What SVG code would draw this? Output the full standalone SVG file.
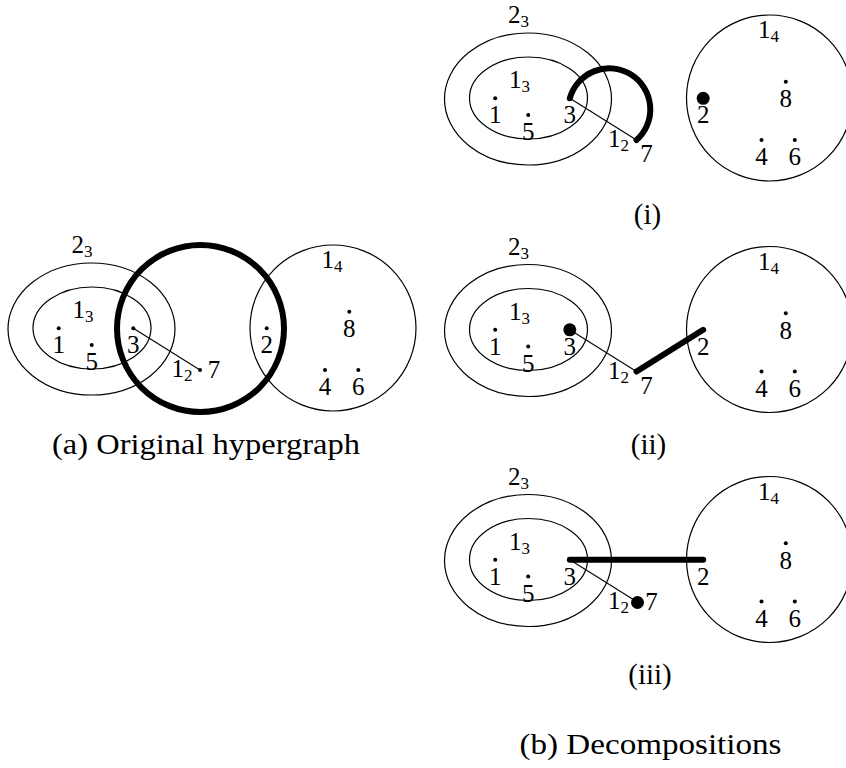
<svg xmlns="http://www.w3.org/2000/svg" width="846" height="768" viewBox="0 0 846 768" font-family="'Liberation Serif','Times New Roman',serif">
<style>
.bg{fill:#fff}
.thin{fill:none;stroke:#000;stroke-width:1.2}
.line{fill:none;stroke:#000;stroke-width:1.1}
.thick{fill:none;stroke:#000;stroke-width:6;stroke-linecap:round}
.dot{fill:#000}
text{font-family:"Liberation Serif","Times New Roman",serif;fill:#000}
.lbl{font-size:25px;text-anchor:middle}
.sl{font-size:25px}
.sub{font-size:17px}
.cap{font-size:29px;text-anchor:middle}
</style>
<rect class="bg" x="0" y="0" width="846" height="768"/>

<!-- Panel (a) -->
<g id="panel-a">
  <g id="a-connectors">
    <line class="line" x1="133.3" y1="328.3" x2="200" y2="370"/>
    <circle class="thick" cx="200.5" cy="328.5" r="83.5"/>
  </g>
  <g id="a-e23"><ellipse class="thin" cx="91.5" cy="329" rx="83.5" ry="66"/><text class="sl" x="71.5" y="253">2<tspan class="sub" dy="4">3</tspan></text></g>
  <g id="a-e13"><ellipse class="thin" cx="92" cy="328" rx="59" ry="41"/><text class="sl" x="72.5" y="318">1<tspan class="sub" dy="4">3</tspan></text></g>
  <g id="a-e14"><circle class="thin" cx="333" cy="328" r="83"/><text class="sl" x="321.5" y="268">1<tspan class="sub" dy="4">4</tspan></text></g>
  <g id="a-e12"><text class="sl" x="171.5" y="377">1<tspan class="sub" dy="4">2</tspan></text></g>
  <g id="a-v1"><circle class="dot" cx="58.7" cy="328.3" r="2"/><text class="lbl" x="58.7" y="353">1</text></g>
  <g id="a-v5"><circle class="dot" cx="91.7" cy="345" r="2"/><text class="lbl" x="91.7" y="370">5</text></g>
  <g id="a-v3"><circle class="dot" cx="133.3" cy="328.3" r="2"/><text class="lbl" x="133.3" y="353">3</text></g>
  <g id="a-v7"><circle class="dot" cx="200" cy="370" r="2"/><text class="lbl" x="214" y="378">7</text></g>
  <g id="a-v2"><circle class="dot" cx="266.7" cy="328.3" r="2"/><text class="lbl" x="266.7" y="353">2</text></g>
  <g id="a-v8"><circle class="dot" cx="349.3" cy="311.7" r="2"/><text class="lbl" x="349.3" y="337">8</text></g>
  <g id="a-v4"><circle class="dot" cx="325" cy="370" r="2"/><text class="lbl" x="325" y="395">4</text></g>
  <g id="a-v6"><circle class="dot" cx="358.3" cy="370" r="2"/><text class="lbl" x="358.3" y="395">6</text></g>
  <text id="cap-a" class="cap" x="206" y="454" textLength="308" lengthAdjust="spacingAndGlyphs">(a) Original hypergraph</text>
</g>

<!-- Panel (i) -->
<g id="panel-i" transform="translate(436.5,-230)">
  <g id="i-connectors">
    <line class="line" x1="133.3" y1="328.3" x2="200" y2="370"/>
    <path class="thick" d="M133.3,328.3 A41,41 0 1 1 200,370"/>
  </g>
  <g id="i-e23"><ellipse class="thin" cx="91.5" cy="329" rx="83.5" ry="66"/><text class="sl" x="71.5" y="253">2<tspan class="sub" dy="4">3</tspan></text></g>
  <g id="i-e13"><ellipse class="thin" cx="92" cy="328" rx="59" ry="41"/><text class="sl" x="72.5" y="318">1<tspan class="sub" dy="4">3</tspan></text></g>
  <g id="i-e14"><circle class="thin" cx="333" cy="328" r="83"/><text class="sl" x="321.5" y="268">1<tspan class="sub" dy="4">4</tspan></text></g>
  <g id="i-e12"><text class="sl" x="171.5" y="377">1<tspan class="sub" dy="4">2</tspan></text></g>
  <g id="i-v1"><circle class="dot" cx="58.7" cy="328.3" r="2"/><text class="lbl" x="58.7" y="353">1</text></g>
  <g id="i-v5"><circle class="dot" cx="91.7" cy="345" r="2"/><text class="lbl" x="91.7" y="370">5</text></g>
  <g id="i-v3"><circle class="dot" cx="133.3" cy="328.3" r="2"/><text class="lbl" x="133.3" y="353">3</text></g>
  <g id="i-v7"><circle class="dot" cx="200" cy="370" r="2"/><text class="lbl" x="210" y="392">7</text></g>
  <g id="i-v2"><circle class="dot" cx="266.7" cy="328.3" r="6.5"/><text class="lbl" x="266.7" y="353">2</text></g>
  <g id="i-v8"><circle class="dot" cx="349.3" cy="311.7" r="2"/><text class="lbl" x="349.3" y="337">8</text></g>
  <g id="i-v4"><circle class="dot" cx="325" cy="370" r="2"/><text class="lbl" x="325" y="395">4</text></g>
  <g id="i-v6"><circle class="dot" cx="358.3" cy="370" r="2"/><text class="lbl" x="358.3" y="395">6</text></g>
  <text id="cap-i" class="cap" x="211" y="454">(i)</text>
</g>

<!-- Panel (ii) -->
<g id="panel-ii" transform="translate(436.5,1.5)">
  <g id="ii-connectors">
    <line class="line" x1="133.3" y1="328.3" x2="200" y2="370"/>
    <line class="thick" x1="200" y1="370" x2="266.7" y2="328.3"/>
  </g>
  <g id="ii-e23"><ellipse class="thin" cx="91.5" cy="329" rx="83.5" ry="66"/><text class="sl" x="71.5" y="253">2<tspan class="sub" dy="4">3</tspan></text></g>
  <g id="ii-e13"><ellipse class="thin" cx="92" cy="328" rx="59" ry="41"/><text class="sl" x="72.5" y="318">1<tspan class="sub" dy="4">3</tspan></text></g>
  <g id="ii-e14"><circle class="thin" cx="333" cy="328" r="83"/><text class="sl" x="321.5" y="268">1<tspan class="sub" dy="4">4</tspan></text></g>
  <g id="ii-e12"><text class="sl" x="171.5" y="377">1<tspan class="sub" dy="4">2</tspan></text></g>
  <g id="ii-v1"><circle class="dot" cx="58.7" cy="328.3" r="2"/><text class="lbl" x="58.7" y="353">1</text></g>
  <g id="ii-v5"><circle class="dot" cx="91.7" cy="345" r="2"/><text class="lbl" x="91.7" y="370">5</text></g>
  <g id="ii-v3"><circle class="dot" cx="133.3" cy="328.3" r="6.5"/><text class="lbl" x="133.3" y="353">3</text></g>
  <g id="ii-v7"><circle class="dot" cx="200" cy="370" r="2"/><text class="lbl" x="210" y="392">7</text></g>
  <g id="ii-v2"><circle class="dot" cx="266.7" cy="328.3" r="2"/><text class="lbl" x="266.7" y="353">2</text></g>
  <g id="ii-v8"><circle class="dot" cx="349.3" cy="311.7" r="2"/><text class="lbl" x="349.3" y="337">8</text></g>
  <g id="ii-v4"><circle class="dot" cx="325" cy="370" r="2"/><text class="lbl" x="325" y="395">4</text></g>
  <g id="ii-v6"><circle class="dot" cx="358.3" cy="370" r="2"/><text class="lbl" x="358.3" y="395">6</text></g>
  <text id="cap-ii" class="cap" x="212" y="452">(ii)</text>
</g>

<!-- Panel (iii) -->
<g id="panel-iii" transform="translate(436.5,231.5)">
  <g id="iii-connectors">
    <line class="line" x1="133.3" y1="328.3" x2="200" y2="370"/>
    <line class="thick" x1="133.3" y1="328.3" x2="266.7" y2="328.3"/>
  </g>
  <g id="iii-e23"><ellipse class="thin" cx="91.5" cy="329" rx="83.5" ry="66"/><text class="sl" x="71.5" y="253">2<tspan class="sub" dy="4">3</tspan></text></g>
  <g id="iii-e13"><ellipse class="thin" cx="92" cy="328" rx="59" ry="41"/><text class="sl" x="72.5" y="318">1<tspan class="sub" dy="4">3</tspan></text></g>
  <g id="iii-e14"><circle class="thin" cx="333" cy="328" r="83"/><text class="sl" x="321.5" y="268">1<tspan class="sub" dy="4">4</tspan></text></g>
  <g id="iii-e12"><text class="sl" x="171.5" y="377">1<tspan class="sub" dy="4">2</tspan></text></g>
  <g id="iii-v1"><circle class="dot" cx="58.7" cy="328.3" r="2"/><text class="lbl" x="58.7" y="353">1</text></g>
  <g id="iii-v5"><circle class="dot" cx="91.7" cy="345" r="2"/><text class="lbl" x="91.7" y="370">5</text></g>
  <g id="iii-v3"><circle class="dot" cx="133.3" cy="328.3" r="2"/><text class="lbl" x="133.3" y="353">3</text></g>
  <g id="iii-v7"><circle class="dot" cx="201" cy="371" r="6.5"/><text class="lbl" x="215" y="378">7</text></g>
  <g id="iii-v2"><circle class="dot" cx="266.7" cy="328.3" r="2"/><text class="lbl" x="266.7" y="353">2</text></g>
  <g id="iii-v8"><circle class="dot" cx="349.3" cy="311.7" r="2"/><text class="lbl" x="349.3" y="337">8</text></g>
  <g id="iii-v4"><circle class="dot" cx="325" cy="370" r="2"/><text class="lbl" x="325" y="395">4</text></g>
  <g id="iii-v6"><circle class="dot" cx="358.3" cy="370" r="2"/><text class="lbl" x="358.3" y="395">6</text></g>
  <text id="cap-iii" class="cap" x="213.5" y="452">(iii)</text>
</g>

<text id="cap-b" class="cap" x="650.5" y="754" textLength="262" lengthAdjust="spacingAndGlyphs">(b) Decompositions</text>
</svg>
